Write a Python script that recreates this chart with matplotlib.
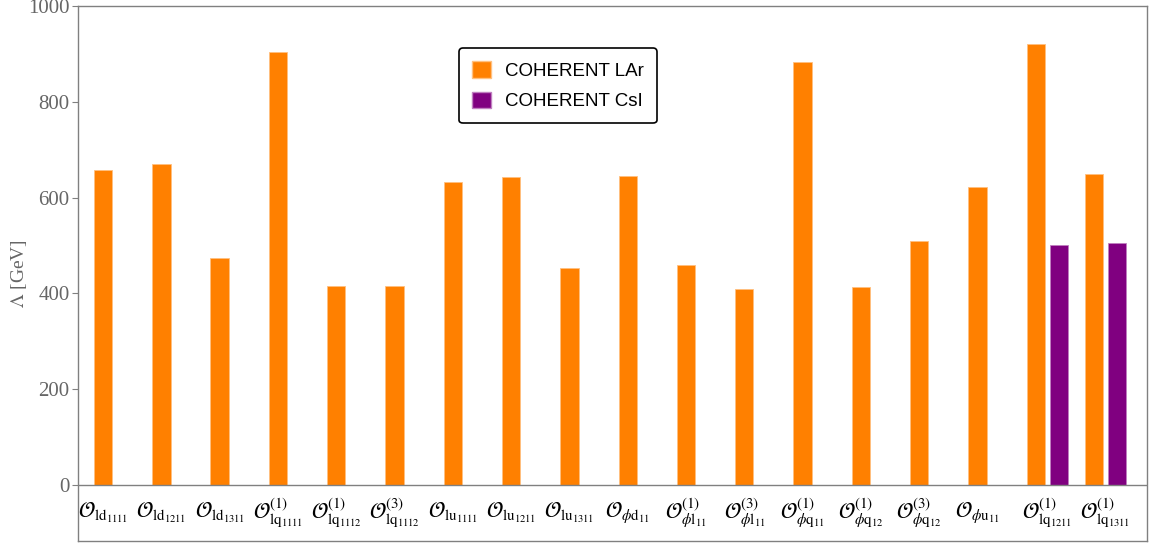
import matplotlib
matplotlib.use("Agg")
import matplotlib.pyplot as plt
from matplotlib.patches import Patch

plt.rcParams["mathtext.fontset"] = "stix"

# Operator labels (mathtext)
operators = [
    r"$\mathcal{O}_{\mathrm{ld}_{1111}}$",
    r"$\mathcal{O}_{\mathrm{ld}_{1211}}$",
    r"$\mathcal{O}_{\mathrm{ld}_{1311}}$",
    r"$\mathcal{O}^{(1)}_{\mathrm{lq}_{1111}}$",
    r"$\mathcal{O}^{(1)}_{\mathrm{lq}_{1112}}$",
    r"$\mathcal{O}^{(3)}_{\mathrm{lq}_{1112}}$",
    r"$\mathcal{O}_{\mathrm{lu}_{1111}}$",
    r"$\mathcal{O}_{\mathrm{lu}_{1211}}$",
    r"$\mathcal{O}_{\mathrm{lu}_{1311}}$",
    r"$\mathcal{O}_{\phi\mathrm{d}_{11}}$",
    r"$\mathcal{O}^{(1)}_{\phi\mathrm{l}_{11}}$",
    r"$\mathcal{O}^{(3)}_{\phi\mathrm{l}_{11}}$",
    r"$\mathcal{O}^{(1)}_{\phi\mathrm{q}_{11}}$",
    r"$\mathcal{O}^{(1)}_{\phi\mathrm{q}_{12}}$",
    r"$\mathcal{O}^{(3)}_{\phi\mathrm{q}_{12}}$",
    r"$\mathcal{O}_{\phi\mathrm{u}_{11}}$",
    r"$\mathcal{O}^{(1)}_{\mathrm{lq}_{1211}}$",
    r"$\mathcal{O}^{(1)}_{\mathrm{lq}_{1311}}$",
]

# Lower bounds on Lambda [GeV]
lar_values = [658, 670, 473, 904, 416, 416, 632, 642, 454, 646,
              460, 410, 883, 414, 510, 623, 920, 649]
# CsI bounds exist only for the last two operators
csi_index = [16, 17]
csi_values = [502, 506]

series_names = ["COHERENT LAr", "COHERENT CsI"]
yticks = [0, 200, 400, 600, 800, 1000]

ORANGE = "#ff8000"
PURPLE = "#800080"
GRAY = "#808080"

bar_w = 0.315
csi_shift = 0.394

fig = plt.figure(figsize=(11.5, 5.45), dpi=100)
ax = fig.add_axes([0.0678, 0.0073, 0.9297, 0.9817])

x_lar = list(range(len(lar_values)))
ax.bar(x_lar, lar_values, width=bar_w, color=ORANGE,
       edgecolor="#ffc080", linewidth=0.6, zorder=2)
x_csi = [x_lar[i] + csi_shift for i in csi_index]
ax.bar(x_csi, csi_values, width=bar_w, color=PURPLE,
       edgecolor="#c080c0", linewidth=0.6, zorder=2)

ax.set_xlim(-0.43, 17.91)
ax.set_ylim(-117, 1000)
ax.axhline(0, color=GRAY, linewidth=1.0, zorder=3)

# operator names under each group
for i, name in enumerate(operators):
    xc = i + csi_shift / 2 if i in csi_index else i
    ax.text(xc, -58, name, ha="center", va="center", fontsize=15.5,
            color="black")

ax.set_xticks([])
ax.set_yticks(yticks)
ax.set_yticklabels([str(t) for t in yticks], family="Liberation Serif",
                   fontsize=15, color="#666666")
ax.tick_params(axis="y", direction="out", length=4, width=0.8,
               color=GRAY, pad=2)
for s in ax.spines.values():
    s.set_color(GRAY)
    s.set_linewidth(1.0)

ax.set_ylabel(r"$\Lambda$ [GeV]", family="Liberation Serif", fontsize=14,
              color="#666666")
ax.yaxis.set_label_coords(-0.0455, 0.5)

handles = [Patch(facecolor=ORANGE, edgecolor="#ffc080", label=series_names[0]),
           Patch(facecolor=PURPLE, edgecolor="#c080c0", label=series_names[1])]
leg = ax.legend(handles=handles, loc="upper left",
                bbox_to_anchor=(0.3564, 0.9215), borderaxespad=0,
                frameon=True, fancybox=True,
                edgecolor="black", framealpha=1, handlelength=1.0,
                handleheight=1.0, handletextpad=0.75, borderpad=0.7,
                labelspacing=0.62, prop={"family": "Liberation Sans", "size": 13.5})
leg.get_frame().set_linewidth(1.2)

fig.savefig("out.png", dpi=100)
